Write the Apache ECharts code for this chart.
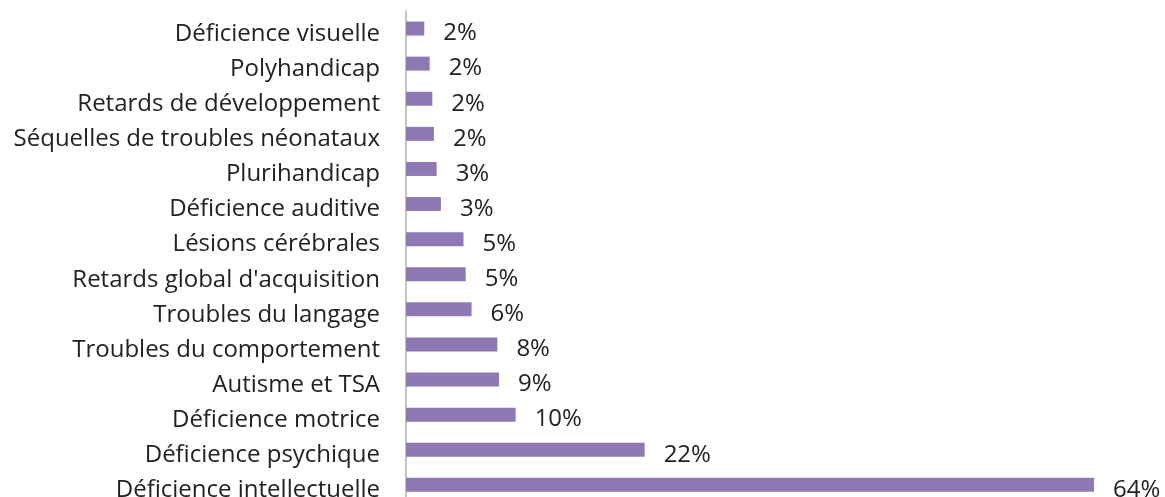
<!DOCTYPE html>
<html>
<head>
<meta charset="utf-8">
<script src="https://cdn.jsdelivr.net/npm/echarts@6/dist/echarts.min.js"></script>
<style>html,body{margin:0;padding:0;background:#fff}#c{width:1165px;height:497px}</style>
</head>
<body>
<div id="c"></div>
<script>
const categories = ["Déficience visuelle","Polyhandicap","Retards de développement","Séquelles de troubles néonataux","Plurihandicap","Déficience auditive","Lésions cérébrales","Retards global d'acquisition","Troubles du langage","Troubles du comportement","Autisme et TSA","Déficience motrice","Déficience psychique","Déficience intellectuelle"];
const values = [1.7,2.2,2.45,2.6,2.85,3.25,5.35,5.55,6.1,8.5,8.65,10.2,22.2,64];
const valueLabels = ["2%","2%","2%","2%","3%","3%","5%","5%","6%","8%","9%","10%","22%","64%"];

const chart = echarts.init(document.getElementById('c'));
chart.setOption({
  animation:false,
  grid:{left:406,width:752.5,top:11,height:491.4,containLabel:false,outerBoundsMode:'none'},
  xAxis:{type:'value',min:0,max:70,show:false},
  yAxis:{type:'category',data:categories,inverse:true,
    axisLine:{show:true,lineStyle:{color:'#b0b0b0',width:1.5}},
    axisTick:{show:false},
    axisLabel:{margin:26,color:'#222',fontFamily:'Open Sans',fontSize:24,
      formatter:v=>'{a|'+v+'}',
      rich:{a:{color:'#222',fontFamily:'Open Sans',fontSize:24,padding:[11,0,0,0]}}}
  },
  series:[{type:'bar',data:values,barWidth:14,
    itemStyle:{color:'#8f79b5'},
    label:{show:true,position:'right',distance:19,color:'#222',fontFamily:'Open Sans',fontSize:24,offset:[0,5],
      formatter:p=>valueLabels[p.dataIndex]}
  }]
});
</script>
</body>
</html>
